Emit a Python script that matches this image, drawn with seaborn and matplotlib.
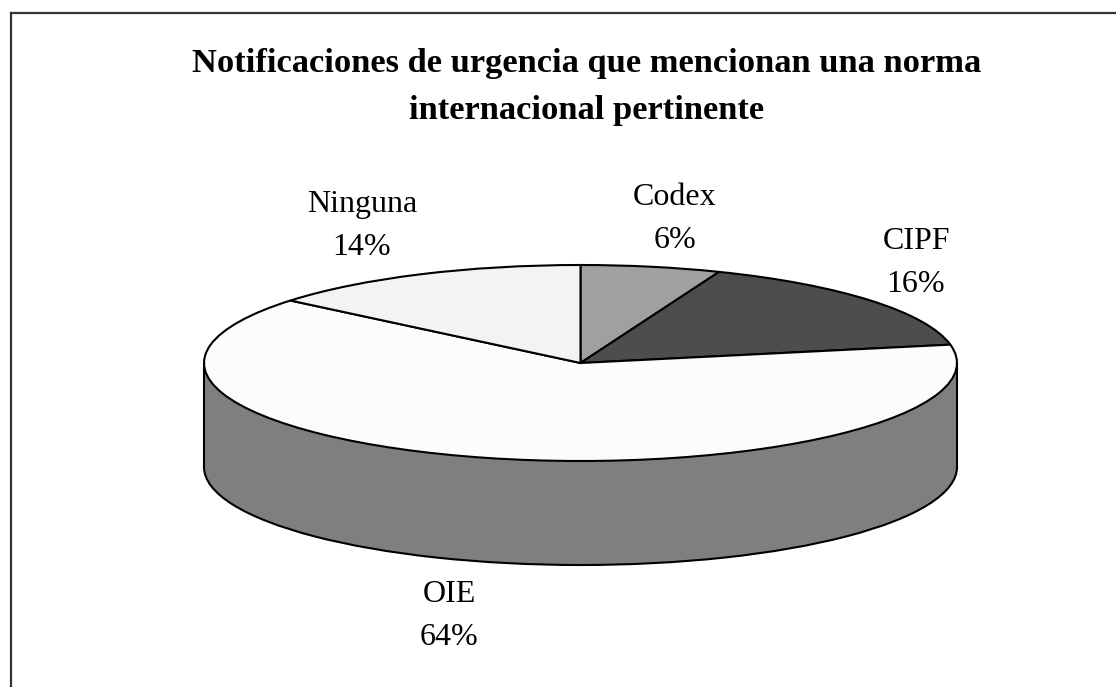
import matplotlib
matplotlib.use('Agg')
import matplotlib.pyplot as plt
import seaborn as sns

categories = ['Codex', 'CIPF', 'OIE', 'Ninguna']
shares = [6, 16, 64, 14]
slice_colors = ['#a0a0a0', '#4d4d4d', '#fcfcfc', '#f3f3f3']
wall_color = '#7f7f7f'
title = 'Notificaciones de urgencia que mencionan una norma\ninternacional pertinente'

W, H = 1116, 687
# pie centre and radii in pixels, the disc is squashed by the axis limits
cx, cy, rx, ry = 580.5, 363, 376.5, 98
depth = 104 / ry
left, top = 10.5, 13

sns.set_theme(style='white')
plt.rcParams['font.family'] = ['Liberation Serif', 'DejaVu Serif']

fig = plt.figure(figsize=(W / 100, H / 100), dpi=100, facecolor='white')
ax = fig.add_axes([left / W, 0, 1 - left / W, 1 - top / H])

edge = {'edgecolor': 'black', 'linewidth': 1.5}
# bottom rim, then the wall between both discs, then the top disc
ax.pie([1], colors=[wall_color], center=(0, -depth), startangle=90, wedgeprops=edge)
ax.fill_between([-1, 1], -depth, 0, color=wall_color, linewidth=0)
ax.vlines([-1, 1], -depth, 0, color='black', linewidth=1.5)
ax.pie(shares, colors=slice_colors, startangle=90, counterclock=False, wedgeprops=edge)

ax.set_aspect('auto')
ax.set_xlim((left - cx) / rx, (W - cx) / rx)
ax.set_ylim((cy - H) / ry, (cy - top) / ry)
ax.set_frame_on(True)
sns.despine(ax=ax, top=False, right=True, left=False, bottom=True)
for side in ['left', 'top']:
    ax.spines[side].set_color('#333333')
    ax.spines[side].set_linewidth(1.6)

fig.text(587 / W, 1 - 87 / H, title, ha='center', va='center', fontsize=24.8,
         fontweight='bold', color='black', linespacing=1.65)

label_x = [675, 916, 449, 362]
label_y = [219, 263, 616, 226]
for name, share, x, y in zip(categories, shares, label_x, label_y):
    fig.text(x / W, 1 - y / H, f'{name}\n{share}%', ha='center', va='center',
             fontsize=23, color='black', linespacing=1.6)

fig.savefig('out.png', dpi=100)
